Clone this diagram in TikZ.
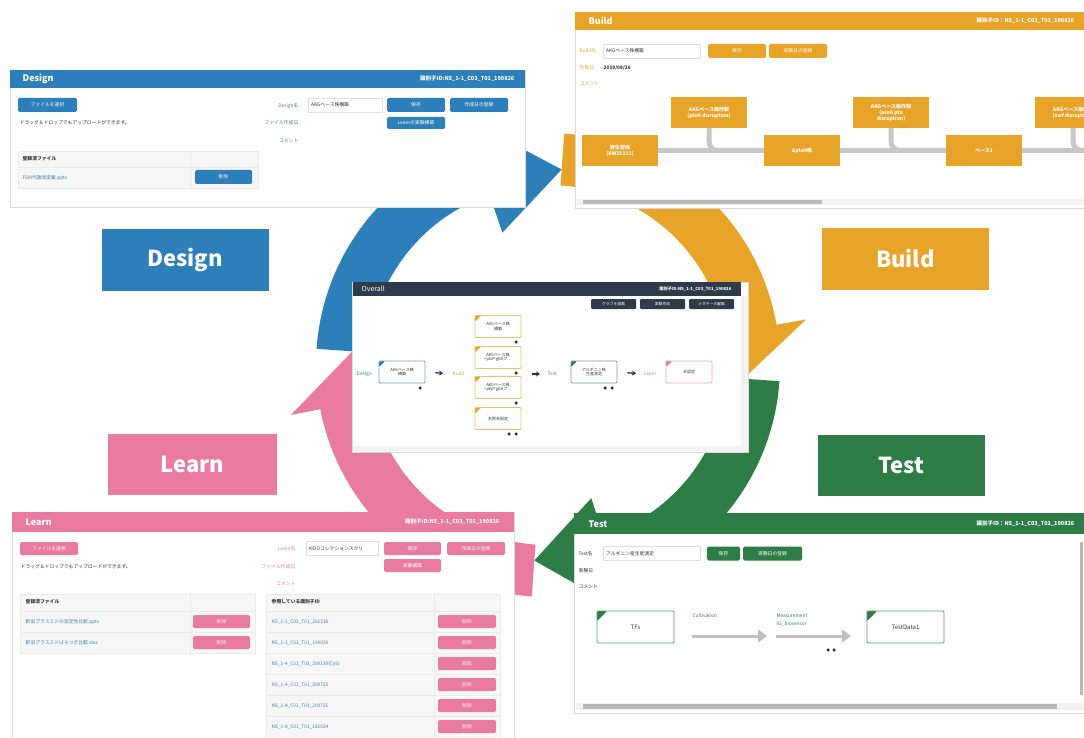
\documentclass[tikz,border=0pt]{standalone}
\usepackage{fontspec}
\setmainfont{Noto Sans CJK JP}
\usepackage{tikz}
\usetikzlibrary{positioning,arrows.meta,calc}
\definecolor{DesignBlue}{HTML}{2C7FB8}
\definecolor{BuildOrange}{HTML}{E8A329}
\definecolor{TestGreen}{HTML}{2E7D46}
\definecolor{LearnPink}{HTML}{E97AA0}
\definecolor{OverallDark}{HTML}{2D3B4B}
\definecolor{LinkBlue}{HTML}{3A7FB0}
\definecolor{NavyArrow}{HTML}{2A2A7A}
\definecolor{TestGray}{HTML}{6B7A8F}
\definecolor{TextDark}{HTML}{333333}

\begin{document}
\begin{tikzpicture}[x=1pt,y=-1pt,
  every node/.style={font=\fontsize{4.8}{5.6}\selectfont, text=TextDark, inner sep=0.5pt},
  panel/.style={draw=black!15, fill=white, line width=0.8pt},
  phase/.style={fill=#1, text=white, minimum width=167pt, minimum height=61pt,
    font=\fontsize{22}{24}\selectfont\bfseries},
  htitle/.style={text=white, anchor=west, font=\fontsize{9}{10}\selectfont\bfseries},
  hid/.style={text=white, anchor=east, font=\fontsize{5.5}{6}\selectfont\bfseries},
  btn/.style={fill=#1, text=white, rounded corners=1.5pt, minimum height=14pt,
    minimum width=58pt, inner sep=0pt},
  field/.style={draw=black!12, fill=white, anchor=west, minimum height=14pt,
    inner sep=3pt, align=left},
  tbl/.style={fill=black!3, draw=black!8, line width=0.6pt},
  bnode/.style={fill=BuildOrange, text=white, minimum width=76pt, minimum height=31pt,
    align=center, font=\fontsize{5}{6}\selectfont\bfseries},
  bline/.style={draw=black!22, line width=5pt, rounded corners=9pt},
  ovbox/.style={draw=#1!70, fill=white, line width=0.8pt, rounded corners=1pt,
    minimum width=46pt, minimum height=22pt, align=center, font=\fontsize{4}{4.6}\selectfont,
    path picture={\fill[#1] (path picture bounding box.north west) -- ++(6pt,0pt)
      -- ++(-6pt,-6pt) -- cycle;}},
  obtn/.style={fill=OverallDark, text=white, rounded corners=1pt, minimum width=45pt,
    minimum height=10pt, inner sep=0pt, font=\fontsize{3.8}{4}\selectfont},
  tnode/.style={draw=TestGreen!80, fill=white, line width=0.9pt, rounded corners=1pt,
    minimum width=77pt, minimum height=32pt, font=\fontsize{6}{7}\selectfont,
    path picture={\fill[TestGreen] (path picture bounding box.north west) -- ++(10pt,0pt)
      -- ++(-10pt,-10pt) -- cycle;}},
  garrow/.style={draw=black!25, line width=3pt, -{Triangle[length=9pt,width=13pt]}},
  navyarr/.style={draw=NavyArrow, line width=1.3pt, -{Stealth[length=4pt,width=5pt]}},
  dot/.style={circle, fill=TextDark, inner sep=0pt, minimum size=3.5pt}]
\useasboundingbox (0,0) rectangle (1084,738);
\clip (0,0) rectangle (1084,738);
\fill[white] (0,0) rectangle (1084,738);

% cycle ring
\coordinate (rc) at (548,365);
\foreach \col/\a/\b/\t in {DesignBlue/184/251/274, BuildOrange/274/350/364,
    TestGreen/4/72/94, LearnPink/94/169/184}
  \fill[\col] ($(rc)+(\a:180)$) arc[start angle=\a, end angle=\b, radius=180]
    -- ($(rc)+(\b:140)$) -- ($(rc)+(\t:196)$) -- ($(rc)+(\b:262)$)
    -- ($(rc)+(\b:232)$) arc[start angle=\b, end angle=\a, radius=232] -- cycle;

\node[phase=DesignBlue] (phD) at (185,260) {Design};
\node[phase=BuildOrange] (phB) at (905.5,259) {Build};
\node[phase=TestGreen] (phT) at (901.5,465.5) {Test};
\node[phase=LearnPink, minimum width=169pt] (phL) at (192.5,464) {Learn};

% Design
\filldraw[panel] (10,70) rectangle (525,207);
\fill[DesignBlue] (10,70) rectangle (525,88);
\node[htitle] (dtitle) at (22,79) {Design};
\node[hid] (did) at (515,79) {識別子ID:NS\_1-1\_C03\_T01\_190826};
\node[btn=DesignBlue, minimum width=59pt] (dfile) at (47.5,105) {ファイルを選択};
\node[anchor=west] (ddrop) at (19,123) {ドラッグ＆ドロップでもアップロードができます。};
\node[anchor=east, text=LinkBlue] (dname) at (299,106) {Design名};
\node[anchor=east, text=LinkBlue] (ddate) at (299,123) {ファイル作成日};
\node[anchor=east, text=LinkBlue] (dcom) at (299,141) {コメント};
\node[field, text width=68pt] (dfield) at (308,105) {AKGベース株構築};
\node[btn=DesignBlue] (dsave) at (416,105) {保存};
\node[btn=DesignBlue] (dreg) at (479,105) {作成日の登録};
\node[btn=DesignBlue, minimum height=12pt] (dlearn) at (416,123) {Learnの実験構築};
\filldraw[tbl] (18,151) rectangle (258,188);
\draw[black!8, line width=0.6pt] (18,167) -- (258,167) (190,151) -- (190,188);
\node[anchor=west, font=\fontsize{4.8}{5.6}\selectfont\bfseries] (dtab) at (22,159) {登録済ファイル};
\node[anchor=west, text=LinkBlue] (dppt) at (22,178) {FSM代謝改変案.pptx};
\node[btn=DesignBlue, minimum width=57pt] (ddel) at (223.5,177) {削除};

% Build
\filldraw[panel] (575,12) rectangle (1095,208);
\fill[BuildOrange] (575,12) rectangle (1095,30);
\node[htitle] (btitle) at (588,21) {Build};
\node[hid] (bid) at (1075,21) {識別子ID：NS\_1-1\_C03\_T01\_190826};
\node[anchor=west, text=BuildOrange] (bname) at (579,51) {Build名};
\node[field, text width=91pt] (bfield) at (603,51) {AKGベース株構築};
\node[btn=BuildOrange] (bsave) at (737,51) {保存};
\node[btn=BuildOrange] (breg) at (798,51) {実験日の登録};
\node[anchor=west, text=BuildOrange] (bdlab) at (579,68) {作製日};
\node[anchor=west, font=\fontsize{4.8}{5.6}\selectfont\bfseries] (bdate) at (603,68) {2019/08/26};
\node[anchor=west, text=BuildOrange] (bcom) at (579,84) {コメント};
\node[bnode] (wt) at (620,150.5) {野生型株\\(BW25113)};
\node[bnode] (ab1) at (709,112.5) {AKGベース株作製\\(ptsH disruption)};
\node[bnode] (dpt) at (802,150.5) {ΔptsH株};
\node[bnode] (ab2) at (891,112.5) {AKGベース株作製\\(aceA pta\\disruption)};
\node[bnode] (base) at (984,150.5) {ベース1};
\node[bnode] (ab3) at (1073,112.5) {AKGベース株作製\\(zwf disruption)};
\coordinate (bend) at (1110,150.5);
\draw[bline] (wt.east) -- (dpt.west);
\draw[bline] (dpt.east) -- (base.west);
\draw[bline] (base.east) -- (bend);
\draw[bline] (ab1.south) |- (dpt.west);
\draw[bline] (ab2.south) |- (base.west);
\draw[bline] (ab3.south) |- (bend);
\fill[black!5] (577,199) rectangle (1090,205);
\fill[black!28] (583,200) rectangle (822,204);

% Overall
\filldraw[panel] (352,282) rectangle (748,452);
\fill[OverallDark] (353,282) rectangle (741,296);
\fill[black!5] (741,296) rectangle (748,451) (353,446) rectangle (741,451);
\node[htitle, font=\fontsize{7}{8}\selectfont] (otitle) at (361,289) {Overall};
\node[hid, font=\fontsize{4.2}{5}\selectfont\bfseries] (oid) at (732,289) {識別子ID:NS\_1-1\_C03\_T01\_190826};
\node[obtn] (ograph) at (613.5,304) {グラフを描画};
\node[obtn] (oexp) at (662.5,304) {実験作成};
\node[obtn] (ometa) at (711.5,304) {メタデータ編集};
\node[anchor=west, text=DesignBlue] (olD) at (356,374) {Design};
\node[anchor=west, text=BuildOrange] (olB) at (452,374) {Build};
\node[anchor=west, text=TestGray] (olT) at (547,374) {Test};
\node[anchor=west, text=LearnPink] (olL) at (643,374) {Learn};
\node[ovbox=DesignBlue] (ovd) at (402,372) {AKGベース株\\構築};
\node[ovbox=BuildOrange] (ovb1) at (498,326.5) {AKGベース株\\構築};
\node[ovbox=BuildOrange] (ovb2) at (498,357.5) {AKGベース株\\<ptsP-gltAプ…};
\node[ovbox=BuildOrange] (ovb3) at (498,387.5) {AKGベース株\\<ptsP-gltAプ…};
\node[ovbox=BuildOrange] (ovb4) at (498,418.5) {名称未設定};
\node[ovbox=TestGreen] (ovt) at (594,372) {アルギニン株\\生産測定};
\node[ovbox=LearnPink] (ovl) at (689,372) {未設定};
\coordinate (obcol) at (521,374);
\draw[navyarr, shorten <=10pt, shorten >=9pt] (ovd.east) -- (olB.west);
\draw[navyarr, shorten <=11pt, shorten >=7pt] (obcol) -- (olT.west);
\draw[navyarr, shorten <=10pt, shorten >=7pt] (ovt.east) -- (olL.west);
\node[dot] (od1) at (420,388) {};
\node[dot] (od2) at (516,342) {};
\node[dot] (od3) at (516,373) {};
\node[dot] (od4) at (516,403) {};
\node[dot] (od5) at (509,434) {};
\node[dot] (od6) at (516,434) {};
\node[dot] (od7) at (605,388) {};
\node[dot] (od8) at (612,388) {};

% Test
\filldraw[panel] (574,513) rectangle (1095,713);
\fill[TestGreen] (574,513) rectangle (1095,534);
\node[htitle] (ttitle) at (588,524) {Test};
\node[hid] (tid) at (1075,524) {識別子ID：NS\_1-1\_C03\_T01\_190826};
\node[anchor=west] (tname) at (578,553.5) {Test名};
\node[field, text width=91pt] (tfield) at (603,553.5) {アルギニン産生能測定};
\node[btn=TestGreen, minimum width=33pt] (tsave) at (723.5,553.5) {保存};
\node[btn=TestGreen, minimum width=59pt] (treg) at (772.5,553.5) {実験日の登録};
\node[anchor=west] (tdlab) at (578,571) {実験日};
\node[anchor=west] (tcom) at (578,587) {コメント};
\node[tnode] (tfs) at (635.5,627) {TFs};
\node[tnode] (tdata) at (905.5,627) {TestData1};
\coordinate (cult0) at (692,636);
\coordinate (cult1) at (767,636);
\coordinate (meas0) at (776,636);
\coordinate (meas1) at (851,636);
\draw[garrow] (cult0) -- (cult1);
\draw[garrow] (meas0) -- (meas1);
\node[anchor=west, text=TestGreen] (tcult) at (692,616) {Cultivation};
\node[anchor=west, text=TestGreen] (tmeas) at (776,616) {Measurement};
\node[anchor=west, text=TestGreen] (tbio) at (776,624) {02\_biosensor};
\node[dot] (td1) at (828,650) {};
\node[dot] (td2) at (834,650) {};
\fill[black!5] (576,703) rectangle (1084,710);
\fill[black!28] (583,704) rectangle (1057,709);
\fill[black!28] (1080,542) rectangle (1083,695);

% Learn
\filldraw[panel] (12,512) rectangle (514,745);
\fill[LearnPink] (12,512) rectangle (514,532);
\node[htitle] (ltitle) at (25,522) {Learn};
\node[hid] (lid) at (500,522) {識別子ID:NS\_1-1\_C03\_T01\_190826};
\node[btn=LearnPink, minimum height=13pt] (lfile) at (49,548.5) {ファイルを選択};
\node[anchor=west] (ldrop) at (20,567) {ドラッグ＆ドロップでもアップロードができます。};
\node[anchor=east, text=LearnPink] (lname) at (296,549) {Learn名};
\node[anchor=east, text=LearnPink] (ldate) at (296,567) {ファイル作成日};
\node[anchor=east, text=LearnPink] (lcom) at (296,584) {コメント};
\node[field, text width=66pt] (lfield) at (306,548.5) {KEIOコレクションスクリ};
\node[btn=LearnPink, minimum width=57pt, minimum height=13pt] (lsave) at (412.5,548.5) {保存};
\node[btn=LearnPink, minimum height=13pt] (lreg) at (476,548.5) {作成日の登録};
\node[btn=LearnPink, minimum width=57pt, minimum height=13pt] (lexp) at (412.5,565.5) {実験構築};
\filldraw[tbl] (20,594) rectangle (255,653);
\draw[black!8, line width=0.6pt] (20,611) -- (255,611) (20,632) -- (255,632) (190,594) -- (190,653);
\node[anchor=west, font=\fontsize{4.8}{5.6}\selectfont\bfseries] (ltab) at (25,602) {登録済ファイル};
\node[anchor=west, text=LinkBlue] (lf1) at (25,622) {新旧プラスミドの安定性比較.pptx};
\node[anchor=west, text=LinkBlue] (lf2) at (25,643) {新旧プラスミドばらつき比較.xlsx};
\node[btn=LearnPink, minimum width=57pt, minimum height=13pt] (ldf1) at (221.5,621.5) {削除};
\node[btn=LearnPink, minimum width=57pt, minimum height=13pt] (ldf2) at (221.5,642.5) {削除};
\filldraw[tbl] (266,594) rectangle (500,745);
\draw[black!8, line width=0.6pt] (434,594) -- (434,745);
\foreach \i in {0,...,5}
  \draw[black!8, line width=0.6pt] (266,611+21*\i) -- (500,611+21*\i);
\node[anchor=west, font=\fontsize{4.8}{5.6}\selectfont\bfseries] (lref) at (271,602) {参照している識別子ID};
\foreach \ref [count=\i] in {NS\_1-1\_C02\_T01\_201216, NS\_1-1\_C03\_T01\_190826,
    NS\_1-4\_C01\_T01\_200130(Cy5), NS\_1-4\_C01\_T01\_200725,
    NS\_1-4\_C02\_T01\_200725, NS\_1-8\_C01\_T01\_181024} {
  \node[anchor=west, text=LinkBlue] (lr\i) at (271,601+21*\i) {\ref};
  \node[btn=LearnPink, minimum height=13pt] (ldr\i) at (467,600.5+21*\i) {削除};
}
\end{tikzpicture}
\end{document}
